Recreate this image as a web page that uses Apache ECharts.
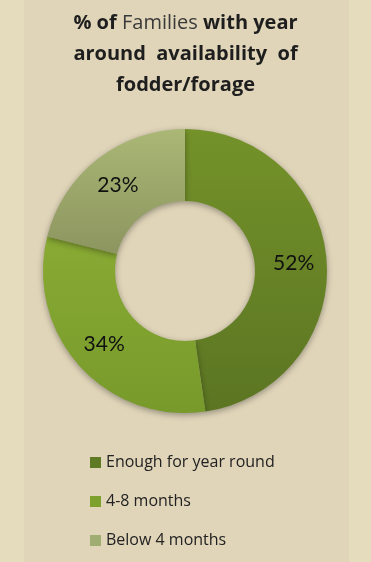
<!DOCTYPE html>
<html>
	<head>
		<meta charset="UTF-8">
		<title></title>
		<script src="https://cdn.jsdelivr.net/npm/echarts@6/dist/echarts.min.js"></script>
		<style>
			html, body { margin: 0; padding: 0; background: #e5dbbd; }
			#main { width: 371px; height: 562px; }
		</style>
	</head>
	<body>
		<div id="main"></div>
	</body>
	<script type="text/javascript">
		var categories = ['Enough for year round', '4-8 months', 'Below 4 months'];
		var values = [52, 34, 23];
		var topColors = ['#74922a', '#89aa33', '#aab775'];
		var bottomColors = ['#5b7522', '#779a2b', '#8c955f'];
		var legendColors = ['#5e7a22', '#7ea02c', '#a0ad72'];

		var myChart = echarts.init(document.getElementById('main'));

		var data = [];
		for (var i = 0; i < categories.length; i++) {
			data.push({
				name: categories[i],
				value: values[i],
				itemStyle: {
					color: new echarts.graphic.LinearGradient(0, 0, 0, 1, [
						{ offset: 0, color: topColors[i] },
						{ offset: 1, color: bottomColors[i] }
					])
				}
			});
		}

		myChart.setOption({
			backgroundColor: '#e5dbbd',
			graphic: [{
				type: 'rect',
				z: -10,
				shape: { x: 24, y: 0, width: 325, height: 562 },
				style: { fill: '#e0d5b9' }
			}],
			title: {
				text: '{b|% of }{n|Families}{b| with year}\n{b|around  availability  of}\n{b|fodder/forage}',
				left: 'center',
				top: 3,
				textStyle: {
					rich: {
						b: { fontFamily: 'Open Sans', fontWeight: 'bold', fontSize: 20, color: '#1e1e1e', lineHeight: 31 },
						n: { fontFamily: 'Open Sans', fontWeight: 'normal', fontSize: 20, color: '#3a3a3a', lineHeight: 31 }
					}
				}
			},
			legend: {
				orient: 'vertical',
				left: 85,
				top: 449,
				itemWidth: 11,
				itemHeight: 11,
				itemGap: 22,
				icon: 'rect',
				data: categories.map(function (c, i) {
					return { name: c, itemStyle: { color: legendColors[i] } };
				}),
				textStyle: { fontFamily: 'Open Sans', fontSize: 16, color: '#222', lineHeight: 17 }
			},
			series: [{
				type: 'pie',
				center: [185, 271],
				radius: [70, 142],
				startAngle: 90,
				clockwise: true,
				avoidLabelOverlap: false,
				silent: true,
				itemStyle: {
					shadowBlur: 6,
					shadowColor: 'rgba(0,0,0,0.35)',
					shadowOffsetY: 2
				},
				label: {
					show: true,
					position: 'inside',
					formatter: '{c}%',
					fontFamily: 'Lato',
					fontSize: 21,
					color: '#111'
				},
				labelLine: { show: false },
				data: data
			}]
		});
	</script>
</html>
